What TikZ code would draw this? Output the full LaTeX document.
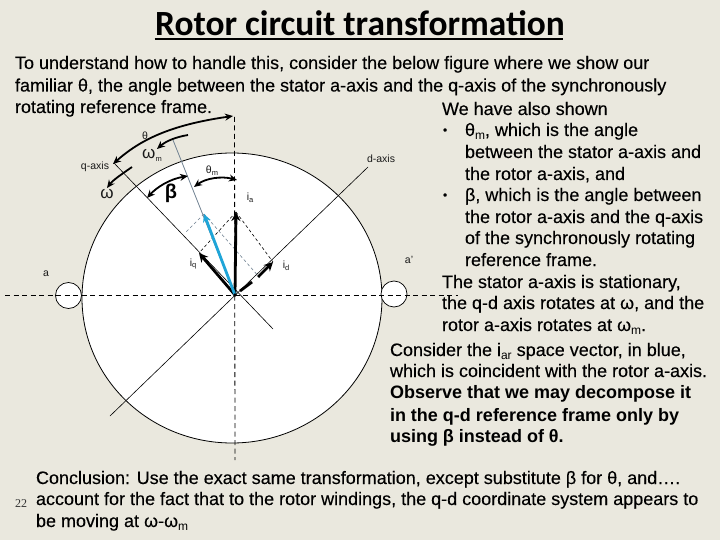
\documentclass[tikz,border=0pt]{standalone}
\usepackage{fontspec}
\setmainfont{Liberation Sans}
\newfontfamily\bodyfont{Liberation Sans}[RawFeature={embolden=0.2}]
\newfontfamily\titlefont{Carlito}
\newfontfamily\numfont{Liberation Serif}
\usetikzlibrary{arrows.meta,shapes.geometric}
\definecolor{bgc}{HTML}{EAE8DE}
\definecolor{bluev}{HTML}{1FA5D8}
\definecolor{axisgray}{HTML}{6E8090}
\newcommand{\lowr}[1]{\raisebox{-0.4ex}{\fontsize{12}{12}\selectfont\normalfont #1}}
\newcommand{\lowsm}[1]{\raisebox{-0.35ex}{\fontsize{7.5}{7.5}\selectfont #1}}
\tikzset{
  txt/.style={anchor=base west,inner sep=0pt,outer sep=0pt,font=\bodyfont\fontsize{18}{20}\selectfont,text=black},
  btxt/.style={txt,font=\fontsize{18}{20}\bfseries\selectfont},
  bul/.style={txt,font=\bodyfont\fontsize{12}{14}\selectfont},
  lbl/.style={inner sep=0pt,font=\fontsize{10.5}{12}\selectfont,text=black!90},
  dashax/.style={draw=black,line width=0.8pt,dash pattern=on 5pt off 3.5pt},
  thin axis/.style={draw=black,line width=0.6pt},
  proj/.style={draw=black,line width=0.6pt,dash pattern=on 3pt off 2.5pt},
  projg/.style={draw=axisgray,line width=0.6pt,dash pattern=on 3pt off 2.5pt},
  vec/.style={draw=black,line width=2.8pt,-{Stealth[length=9pt,width=9pt]}},
  curv/.style={draw=black,line width=1.8pt,-{Stealth[length=8pt,width=7pt]}},
  curvb/.style={draw=black,line width=1.8pt,{Stealth[length=8pt,width=7pt]}-{Stealth[length=8pt,width=7pt]}},
}
\begin{document}
\begin{tikzpicture}[x=1pt,y=-1pt]
\useasboundingbox (0,0) rectangle (720,540);
\fill[bgc] (0,0) rectangle (720,540);
% coordinates
\coordinate (O) at (235,295);
\coordinate (hl) at (5,295);
\coordinate (hr) at (458,295);
\coordinate (vt) at (234.5,117);
\coordinate (vb) at (235,460);
\coordinate (qa) at (114,163);
\coordinate (qb) at (273,329);
\coordinate (da) at (110,416);
\coordinate (db) at (368,167);
\coordinate (ra) at (173,140);
\coordinate (ia) at (236,212);
\coordinate (iq) at (199,253);
\coordinate (idt) at (273,262);
\coordinate (ida) at (240,291);
\coordinate (idb) at (252,282);
\coordinate (idc) at (258,277);
\coordinate (ir) at (204,214);
\coordinate (rp) at (260,278);
\coordinate (rq) at (186,232);
% rotor and stator
\node[draw=black,line width=0.8pt,fill=white,ellipse,minimum width=300pt,minimum height=290pt,inner sep=0pt] (rotor) at (232,298) {};
\node[draw=black,line width=0.7pt,fill=white,circle,minimum size=26pt,inner sep=0pt] (sa) at (68.5,295.5) {};
\node[draw=black,line width=0.7pt,fill=white,circle,minimum size=26pt,inner sep=0pt] (sb) at (394,294) {};
% axes
\draw[dashax] (hl) -- (hr);
\draw[dashax] (vt) -- (vb);
\draw[thin axis] (qa) -- (qb);
\draw[thin axis] (da) -- (db);
\draw[draw=axisgray,line width=0.8pt] (ra) -- (O);
% projections
\draw[proj] (ia) -- (iq);
\draw[proj] (ia) -- (idt);
\draw[projg] (ir) -- (rq);
\draw[projg] (ir) -- (rp);
% vectors
\draw[vec] (O) -- (ia);
\draw[vec] (O) -- (iq);
\draw[draw=black,line width=2.8pt] (ida) -- (idb);
\draw[vec] (idc) -- (idt);
\draw[draw=bluev,line width=2.8pt,-{Stealth[length=8pt,width=8pt]}] (O) -- (ir);
\fill[black] (O) circle (1.8);
% curved arrows
\coordinate (tha) at (113,164);
\coordinate (thb) at (233,116);
\draw[curvb] (tha) .. controls (140,140) and (170,125) .. (thb);
\coordinate (wma) at (188,135);
\coordinate (wmb) at (157,149);
\draw[curv] (wma) .. controls (176,137) and (166,141) .. (wmb);
\coordinate (wa) at (132,167);
\coordinate (wb) at (107,188);
\draw[curv] (wa) .. controls (122,174) and (113,180) .. (wb);
\coordinate (ba) at (188,176);
\coordinate (bb) at (147,198);
\draw[curvb] (ba) .. controls (170,179) and (157,187) .. (bb);
\coordinate (tma) at (237,180);
\coordinate (tmb) at (194,187);
\draw[curvb] (tma) .. controls (222,176) and (206,178) .. (tmb);
% diagram labels
\node[lbl] (lq) at (95,167) {q-axis};
\node[lbl] (ld) at (381,159) {d-axis};
\node[lbl] (lth) at (145,136) {θ};
\node[lbl,font=\fontsize{17}{17}\selectfont] (lwm) at (152,155) {ω\lowsm{m}};
\node[lbl,font=\fontsize{17}{17}\selectfont] (lw) at (107,194) {ω};
\node[lbl,text=black,font=\fontsize{20}{20}\bfseries\selectfont] (lb) at (171,193) {β};
\node[lbl] (ltm) at (212,171) {θ\lowsm{m}};
\node[lbl] (lia) at (250,198) {i\lowsm{a}};
\node[lbl] (liq) at (193,264) {i\lowsm{q}};
\node[lbl] (lid) at (286,266) {i\lowsm{d}};
\node[lbl] (la) at (46,274) {a};
\node[lbl] (lap) at (409,260) {a'};
% title
\node[anchor=base west,inner sep=0pt,font=\titlefont\bfseries\fontsize{35.4}{37}\selectfont] (title) at (155,36) {Rotor circuit transformation};
\draw[line width=2pt] (154.5,39.5) -- (563,39.5);
% text
\node[txt] (t1) at (15,69) {To understand how to handle this, consider the below figure where we show our};
\node[txt] (t2) at (15,91.5) {familiar θ, the angle between the stator a-axis and the q-axis of the synchronously};
\node[txt] (t3) at (15,113) {rotating reference frame.};
\node[txt] (r1) at (442,115) {We have also shown};
\node[bul] (b1) at (443,134) {•};
\node[txt] (r2) at (465,136) {θ\lowr{m}, which is the angle};
\node[txt] (r3) at (465,158) {between the stator a-axis and};
\node[txt] (r4) at (465,180) {the rotor a-axis, and};
\node[bul] (b2) at (443,199) {•};
\node[txt] (r5) at (465,201) {β, which is the angle between};
\node[txt] (r6) at (465,223) {the rotor a-axis and the q-axis};
\node[txt] (r7) at (465,244) {of the synchronously rotating};
\node[txt] (r8) at (465,266) {reference frame.};
\node[txt] (s1) at (442,288) {The stator a-axis is stationary,};
\node[txt] (s2) at (442,309) {the q-d axis rotates at ω, and the};
\node[txt] (s3) at (442,331) {rotor a-axis rotates at ω\lowr{m}.};
\node[txt] (c1) at (390,356) {Consider the i\lowr{ar} space vector, in blue,};
\node[txt] (c2) at (390,377) {which is coincident with the rotor a-axis.};
\node[btxt] (c3) at (390,398) {Observe that we may decompose it};
\node[btxt] (c4) at (390,421) {in the q-d reference frame only by};
\node[btxt] (c5) at (390,442) {using β instead of θ.};
\node[txt] (e1) at (36,484) {Conclusion: Use the exact same transformation, except substitute β for θ, and….};
\node[txt] (e2) at (36,505) {account for the fact that to the rotor windings, the q-d coordinate system appears to};
\node[txt] (e3) at (36,527) {be moving at ω-ω\lowr{m}};
\node[anchor=base west,inner sep=0pt,font=\numfont\fontsize{12}{13}\selectfont,text=black!80] (pg) at (15,507.5) {22};
\end{tikzpicture}
\end{document}
